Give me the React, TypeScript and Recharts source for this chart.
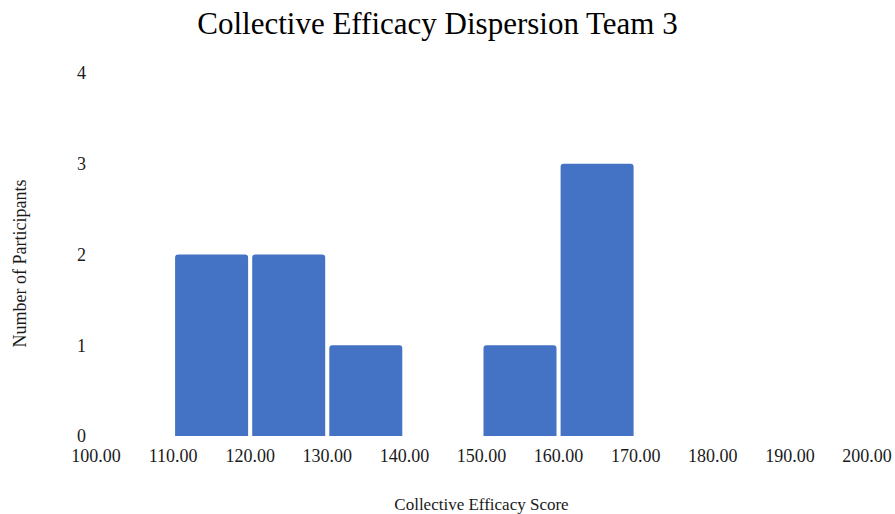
import React from "react";
import { BarChart, Bar, XAxis, YAxis, Label } from "recharts";

// Histogram bins (lower edge of each 10-point bin) and participant counts
const binStarts = [100, 110, 120, 130, 140, 150, 160, 170, 180, 190];
const counts = [0, 2, 2, 1, 0, 1, 3, 0, 0, 0];
const scoreTicks = [100, 110, 120, 130, 140, 150, 160, 170, 180, 190, 200];
const countTicks = [0, 1, 2, 3, 4];

const data = binStarts.map((start, i) => ({
  bin: `${start}-${start + 10}`,
  start,
  count: counts[i],
}));

const FONT = "'Liberation Serif', 'Times New Roman', serif";
const TEXT = "#1a1a1a";

const YTitle = (props: any) => {
  const vb = props.viewBox || {};
  const cx = 20;
  const cy = vb.y + vb.height / 2 + 9;
  return (
    <text
      x={cx}
      y={cy}
      transform={`rotate(-90, ${cx}, ${cy})`}
      textAnchor="middle"
      dominantBaseline="central"
      fontFamily={FONT}
      fontSize={18}
      fill={TEXT}
    >
      Number of Participants
    </text>
  );
};

export default function App() {
  return (
    <div style={{ position: "absolute", left: 0, top: 0, width: 895, height: 514, background: "#fff" }}>
      <div
        style={{
          position: "absolute",
          left: 0,
          top: 6,
          width: 875,
          textAlign: "center",
          fontFamily: FONT,
          fontSize: 31,
          color: "#000",
          lineHeight: "36px",
        }}
      >
        Collective Efficacy Dispersion Team 3
      </div>
      <BarChart
        width={895}
        height={514}
        data={data}
        margin={{ top: 73, right: 28, bottom: 0, left: 0 }}
        barCategoryGap={2}
      >
        <XAxis xAxisId="bins" dataKey="bin" type="category" hide height={0} />
        <XAxis
          xAxisId="score"
          dataKey="start"
          type="number"
          domain={[100, 200]}
          ticks={scoreTicks}
          allowDataOverflow
          height={78}
          axisLine={false}
          tickLine={false}
          tickSize={0}
          tickMargin={13}
          tickFormatter={(v: number) => v.toFixed(2)}
          tick={{ fontFamily: FONT, fontSize: 18, fill: TEXT }}
          interval={0}
        >
          <Label
            value="Collective Efficacy Score"
            position="insideBottom"
            offset={4}
            style={{ fontFamily: FONT, fontSize: 17, fill: TEXT }}
          />
        </XAxis>
        <YAxis
          type="number"
          domain={[0, 4]}
          ticks={countTicks}
          width={96}
          axisLine={false}
          tickLine={false}
          tickSize={0}
          tickMargin={10}
          tick={{ fontFamily: FONT, fontSize: 18, fill: TEXT }}
          interval={0}
        >
          <Label content={YTitle} />
        </YAxis>
        <Bar
          xAxisId="bins"
          dataKey="count"
          fill="#4472C4"
          radius={[3, 3, 0, 0]}
          isAnimationActive={false}
        />
      </BarChart>
    </div>
  );
}
